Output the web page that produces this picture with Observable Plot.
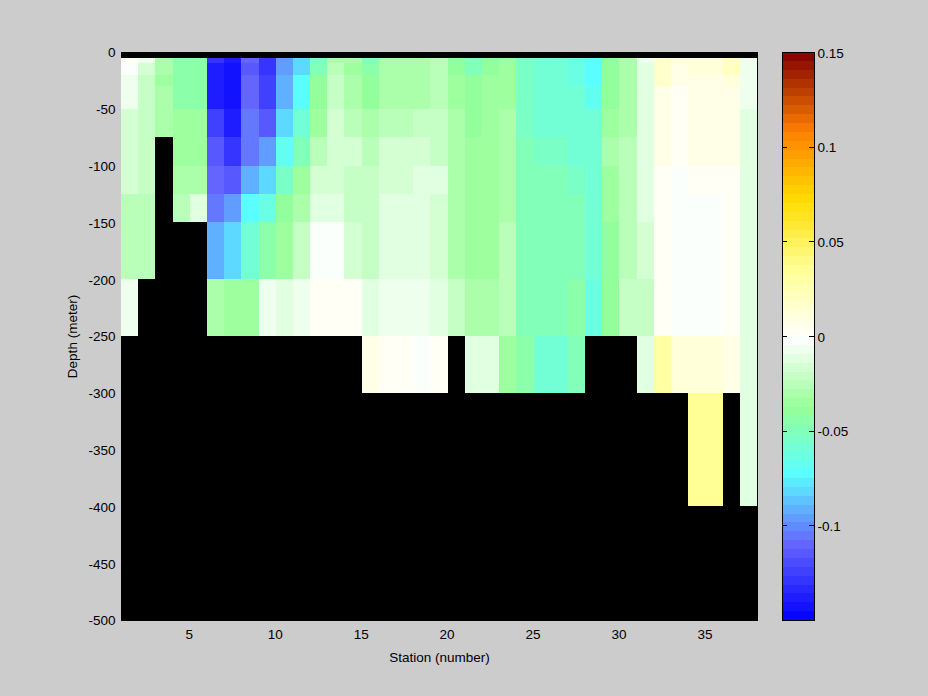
<!DOCTYPE html>
<html>
<head>
<meta charset="utf-8">
<script src="https://cdn.jsdelivr.net/npm/d3@7"></script>
<script src="https://cdn.jsdelivr.net/npm/@observablehq/plot@0.6"></script>
<style>
html,body{margin:0;padding:0;background:#cccccc;width:928px;height:696px;overflow:hidden}
#wrap{position:relative;width:928px;height:696px}
#wrap svg{position:absolute;left:0;top:0;background:transparent;shape-rendering:crispEdges}
#wrap svg text{shape-rendering:auto}
</style>
</head>
<body>
<div id="wrap"></div>
<script>
const N = null;
const stations = d3.range(1, 38);
const depthEdges = [-5,-10,-20,-30,-50,-75,-100,-125,-150,-200,-250,-300,-400];
// values in thousandths, one array for each depth layer, stations 1 to 37
const layer5to10 = [2,-6,-31,-45,-45,-130,-136,-110,-130,-97,-80,-52,-29,-32,-50,-31,-31,-30,-27,-39,-47,-41,-36,-52,-60,-60,-65,-72,-38,-29,-5,15,10,14,14,22,-5];
const layer10to20 = [-1,-18,-31,-45,-45,-136,-142,-117,-130,-97,-80,-50,-25,-34,-45,-31,-31,-30,-27,-39,-47,-41,-36,-52,-60,-60,-65,-72,-38,-29,-10,15,7,14,14,22,-7];
const layer20to30 = [-9,-21,-34,-45,-45,-136,-142,-110,-126,-90,-72,-42,-21,-30,-38,-31,-31,-29,-24,-37,-38,-33,-35,-52,-60,-60,-65,-72,-38,-29,-10,15,7,8,8,14,-7];
const layer30to50 = [-9,-21,-31,-45,-45,-136,-142,-110,-126,-90,-72,-42,-21,-30,-38,-31,-31,-29,-24,-37,-38,-33,-35,-52,-57,-57,-60,-66,-38,-29,-10,7,2,6,6,6,-7];
const layer50to75 = [-16,-23,-31,-36,-36,-126,-136,-105,-117,-80,-60,-34,-16,-25,-31,-27,-27,-21,-21,-31,-38,-33,-29,-52,-57,-57,-60,-60,-34,-29,-10,7,2,6,6,6,-10];
const layer75to100 = [-16,-23,N,-36,-35,-117,-127,-105,-95,-68,-48,-25,-16,-18,-27,-16,-16,-16,-21,-29,-36,-33,-29,-50,-55,-55,-60,-58,-32,-24,-10,7,2,6,6,6,-14];
const layer100to125 = [-16,-23,N,-31,-29,-110,-117,-90,-80,-52,-36,-18,-16,-21,-21,-16,-16,-11,-14,-30,-33,-33,-29,-48,-50,-50,-53,-58,-34,-24,-10,2,-1,2,2,2,-14];
const layer125to150 = [-27,-27,N,-25,-10,-105,-97,-72,-63,-40,-29,-14,-12,-21,-21,-10,-10,-11,-18,-29,-36,-36,-29,-48,-50,-50,-50,-58,-34,-24,-10,2,-1,-1,-1,2,-10];
const layer150to200 = [-27,-27,N,N,N,-90,-80,-60,-43,-36,-21,-4,-4,-16,-21,-10,-10,-10,-16,-29,-36,-34,-27,-48,-50,-50,-50,-58,-38,-24,-16,2,-1,-1,-1,2,-10];
const layer200to250 = [-5,N,N,N,N,-31,-34,-34,-5,-10,-5,2,2,2,-10,-6,-6,-6,-10,-22,-32,-30,-27,-48,-50,-50,-46,-62,-38,-23,-20,2,-1,-1,-1,2,-10];
const layer250to300 = [N,N,N,N,N,N,N,N,N,N,N,N,N,N,5,2,2,-1,2,N,-14,-14,-36,-43,-57,-57,-48,N,N,N,-10,30,14,14,14,8,-10];
const layer300to400 = [N,N,N,N,N,N,N,N,N,N,N,N,N,N,N,N,N,N,N,N,N,N,N,N,N,N,N,N,N,N,N,N,N,34,34,N,-10];
const layers = [layer5to10,layer10to20,layer20to30,layer30to50,layer50to75,layer75to100,layer100to125,layer125to150,layer150to200,layer200to250,layer250to300,layer300to400];

const stationTicks = [5,10,15,20,25,30,35];
const depthTicks = [0,-50,-100,-150,-200,-250,-300,-350,-400,-450,-500];
const colorbarTicks = [0.15,0.1,0.05,0,-0.05,-0.1];

// colormap anchors
const mapStops = [-0.15,-0.11,-0.0725,-0.038,-0.001,0.035,0.072,0.107,0.15];
const mapColors = ["#0000ff","#6464ff","#5affff","#96ff96","#ffffff","#ffff96","#ffdc00","#ff8200","#800000"];
const nLevels = 64, vMin = -0.15, vMax = 0.15, step = (vMax - vMin) / nLevels;
const ramp = d3.scaleLinear().domain(mapStops).range(mapColors);
const levelLows = d3.range(nLevels).map(i => vMin + i * step);
const colorOpts = {
  type: "threshold",
  domain: levelLows.slice(1),
  range: levelLows.map(v => ramp(v + step / 2))
};

const cells = layers.flatMap((row, r) => row.flatMap((v, c) => v === null ? [] : [{
  s0: stations[c], s1: stations[c] + 1,
  d0: depthEdges[r], d1: r + 1 < depthEdges.length ? depthEdges[r + 1] : -500,
  v: v / 1000
}]));

const font = {fontFamily: "'Liberation Sans', Arial, sans-serif", fontSize: "13.5px", color: "#000", background: "transparent"};

const main = Plot.plot({
  width: 928, height: 696,
  marginLeft: 121, marginRight: 171, marginTop: 52, marginBottom: 76,
  style: font,
  x: {domain: [1, 38], range: [121, 757]},
  y: {domain: [-500, 0], range: [620, 52]},
  color: colorOpts,
  marks: [
    Plot.frame({fill: "black", stroke: "black"}),
    Plot.rect(cells, {x1: "s0", x2: "s1", y1: "d0", y2: "d1", fill: "v", inset: 0}),
    Plot.axisX({ticks: stationTicks, tickFormat: d => String(d), tickSize: 0, tickPadding: 9, dx: -1,
      label: "Station (number)", labelAnchor: "center", labelOffset: 41, labelArrow: "none"}),
    Plot.axisY({ticks: depthTicks, tickFormat: d => String(d), tickSize: 0, tickPadding: 6, dy: 0.5,
      label: "Depth (meter)", labelAnchor: "center", labelOffset: 54, labelArrow: "none"})
  ]
});

const bar = levelLows.map(v => ({lo: v, hi: v + step, mid: v + step / 2}));
const legend = Plot.plot({
  width: 928, height: 696,
  marginLeft: 782, marginRight: 114, marginTop: 52, marginBottom: 76,
  style: font,
  x: {domain: [0, 1], axis: null},
  y: {domain: [vMin, vMax]},
  color: colorOpts,
  marks: [
    Plot.rect(bar, {x1: 0, x2: 1, y1: "lo", y2: "hi", fill: "mid"}),
    Plot.ruleY(colorbarTicks, {x1: 0, x2: 0.15, stroke: "black"}),
    Plot.ruleY(colorbarTicks, {x1: 0.85, x2: 1, stroke: "black"}),
    Plot.frame({stroke: "black", strokeWidth: 1}),
    Plot.axisY({anchor: "right", ticks: colorbarTicks, tickFormat: d => String(d), tickSize: 0, tickPadding: 3, dy: 1, label: null})
  ]
});

document.getElementById("wrap").append(main, legend);
</script>
</body>
</html>
